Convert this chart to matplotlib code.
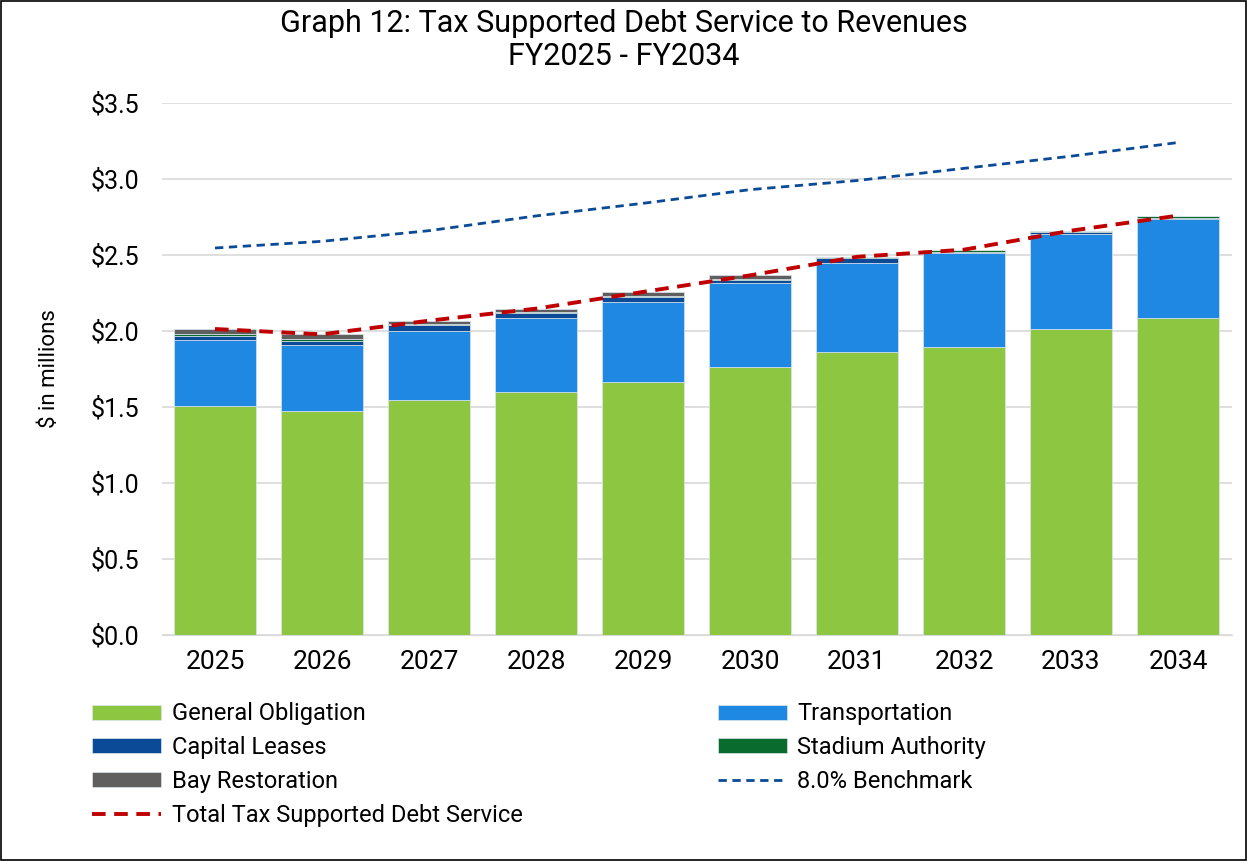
import numpy as np
import matplotlib.pyplot as plt

years = ["2025", "2026", "2027", "2028", "2029", "2030", "2031", "2032", "2033", "2034"]
general_obligation = [1.507, 1.474, 1.546, 1.597, 1.667, 1.761, 1.862, 1.895, 2.013, 2.086]
transportation = [0.434, 0.432, 0.456, 0.486, 0.526, 0.555, 0.587, 0.620, 0.625, 0.651]
capital_leases = [0.028, 0.030, 0.035, 0.033, 0.029, 0.022, 0.029, 0.007, 0.011, 0.008]
stadium_authority = [0.013, 0.014, 0.007, 0.007, 0.006, 0.006, 0.007, 0.011, 0.009, 0.012]
bay_restoration = [0.031, 0.028, 0.024, 0.024, 0.029, 0.022, 0.003, 0.002, 0.002, 0.002]
benchmark = [2.546, 2.59, 2.66, 2.757, 2.84, 2.93, 2.99, 3.07, 3.15, 3.24]

plt.rcParams['font.family'] = ['Roboto', 'DejaVu Sans']

fig = plt.figure(figsize=(12.47, 8.61), dpi=100)
ax = fig.add_axes([161.5 / 1247, 1 - 635 / 861, (1231.5 - 161.5) / 1247, 532 / 861])

x = np.arange(len(years))
w = 0.77
series = [
    (general_obligation, "#8DC641", "General Obligation"),
    (transportation, "#1F88E2", "Transportation"),
    (capital_leases, "#0B4A96", "Capital Leases"),
    (stadium_authority, "#0A6B2E", "Stadium Authority"),
    (bay_restoration, "#5F5F5F", "Bay Restoration"),
]
bottom = np.zeros(len(years))
handles = {}
for vals, col, lab in series:
    b = ax.bar(x, vals, w, bottom=bottom, color=col, edgecolor="#DDE6EE", linewidth=0.5,
               label=lab, zorder=3)
    handles[lab] = b
    bottom = bottom + np.array(vals)

# total is the top of the stacked bars
total = bottom
lb, = ax.plot(x, benchmark, ls=(0, (3, 2)), color="#0B4A96", lw=2, label="8.0% Benchmark", zorder=4)
lt, = ax.plot(x, total, ls=(0, (3.5, 2.2)), color="#C00000", lw=2.8, label="Total Tax Supported Debt Service", zorder=4)

ax.set_xlim(-0.5, len(years) - 0.5)
ax.set_ylim(0, 3.5)
ax.set_yticks(np.arange(0, 3.51, 0.5))
ax.set_yticklabels([f"${v:.1f}" for v in np.arange(0, 3.51, 0.5)], fontsize=18)
ax.set_xticks(x)
ax.set_xticklabels(years, fontsize=19)
ax.tick_params(axis="x", length=0, pad=11)
ax.tick_params(axis="y", length=0, pad=16)
ax.grid(axis="y", color="#D9D9D9", lw=1.2, zorder=0)
for s in ["top", "right", "left"]:
    ax.spines[s].set_visible(False)
ax.spines["bottom"].set_color("#D9D9D9")
ax.set_ylabel("$ in millions", fontsize=16, labelpad=22)

fig.suptitle("Graph 12: Tax Supported Debt Service to Revenues\nFY2025 - FY2034",
             fontsize=22, y=0.99, linespacing=1.2)

order = [handles["General Obligation"], handles["Capital Leases"], handles["Bay Restoration"], lt,
         handles["Transportation"], handles["Stadium Authority"], lb]
labels = ["General Obligation", "Capital Leases", "Bay Restoration", "Total Tax Supported Debt Service",
          "Transportation", "Stadium Authority", "8.0% Benchmark"]
fig.legend(order, labels, ncol=2, loc="upper left", bbox_to_anchor=(83 / 1247, 1 - 693 / 861),
           frameon=False, fontsize=17, handlelength=2.9, handleheight=0.6, columnspacing=8.3,
           labelspacing=0.46, handletextpad=0.45, borderaxespad=0)

fig.add_artist(plt.Rectangle((0.001, 0.001), 0.998, 0.998, transform=fig.transFigure,
                             fill=False, edgecolor="black", lw=1.2))
fig.savefig("out.png", dpi=100)
